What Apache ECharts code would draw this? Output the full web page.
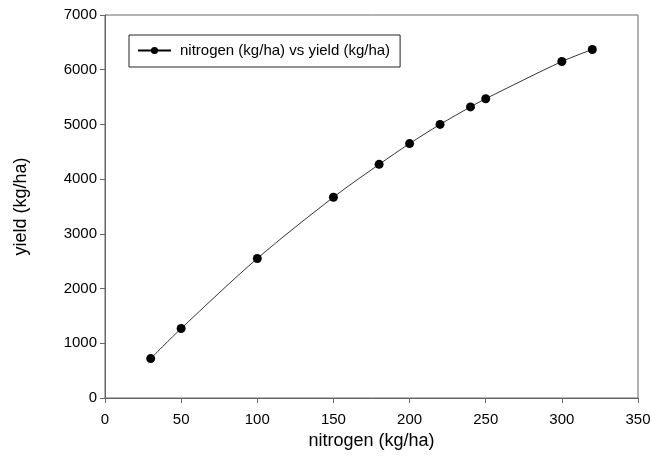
<!DOCTYPE html>
<html>
<head>
<meta charset="utf-8">
<script src="https://cdn.jsdelivr.net/npm/echarts@6/dist/echarts.min.js"></script>
<style>html,body{margin:0;padding:0;background:#fff}#c{width:651px;height:461px}</style>
</head>
<body>
<div id="c"></div>
<script>
var nitrogen = [30, 50, 100, 150, 180, 200, 220, 240, 250, 300, 320];
var yieldVals = [720, 1270, 2550, 3670, 4270, 4650, 5000, 5320, 5470, 6150, 6370];
var xTicks = [0, 50, 100, 150, 200, 250, 300, 350];
var yTicks = [0, 1000, 2000, 3000, 4000, 5000, 6000, 7000];
var seriesName = 'nitrogen (kg/ha) vs yield (kg/ha)';

var data = nitrogen.map(function (x, i) { return [x, yieldVals[i]]; });
var font = 'Liberation Sans, Arial, sans-serif';
var chart = echarts.init(document.getElementById('c'));
chart.setOption({
  animation: false,
  backgroundColor: '#fff',
  grid: { left: 105, right: 13, top: 15, bottom: 63, containLabel: false, outerBoundsMode: 'none', show: true, borderColor: '#666', borderWidth: 1, backgroundColor: 'transparent' },
  legend: {
    left: 129, top: 35, orient: 'horizontal',
    borderColor: '#222', borderWidth: 1, padding: [8, 10, 9, 8],
    itemWidth: 33, itemHeight: 9, itemGap: 5,
    textStyle: { fontFamily: font, fontSize: 15, color: '#000', padding: [0, 0, 0, 4] },
    data: [{ name: seriesName }]
  },
  xAxis: {
    type: 'value', min: xTicks[0], max: xTicks[xTicks.length - 1], interval: 50,
    name: 'nitrogen (kg/ha)', nameLocation: 'middle', nameGap: 34,
    nameTextStyle: { fontFamily: font, fontSize: 18, color: '#000' },
    axisLine: { show: true, lineStyle: { color: '#666', width: 1 } },
    axisTick: { show: true, inside: false, length: 5, lineStyle: { color: '#666' } },
    axisLabel: { fontFamily: font, fontSize: 15, color: '#000', margin: 14 },
    splitLine: { show: false }
  },
  yAxis: {
    type: 'value', min: yTicks[0], max: yTicks[yTicks.length - 1], interval: 1000,
    name: 'yield (kg/ha)', nameLocation: 'middle', nameGap: 75, nameRotate: 90,
    nameTextStyle: { fontFamily: font, fontSize: 18, color: '#000' },
    axisLine: { show: true, lineStyle: { color: '#666', width: 1 } },
    axisTick: { show: true, inside: false, length: 5, lineStyle: { color: '#666' } },
    axisLabel: { fontFamily: font, fontSize: 15, color: '#000', margin: 8, formatter: function (v) { return String(v); } },
    splitLine: { show: false }
  },
  series: [{
    name: seriesName, type: 'line', data: data, smooth: 0.3,
    symbol: 'circle', symbolSize: 9,
    itemStyle: { color: '#000' },
    lineStyle: { color: '#000', width: 0.8 }
  }]
});
</script>
</body>
</html>
